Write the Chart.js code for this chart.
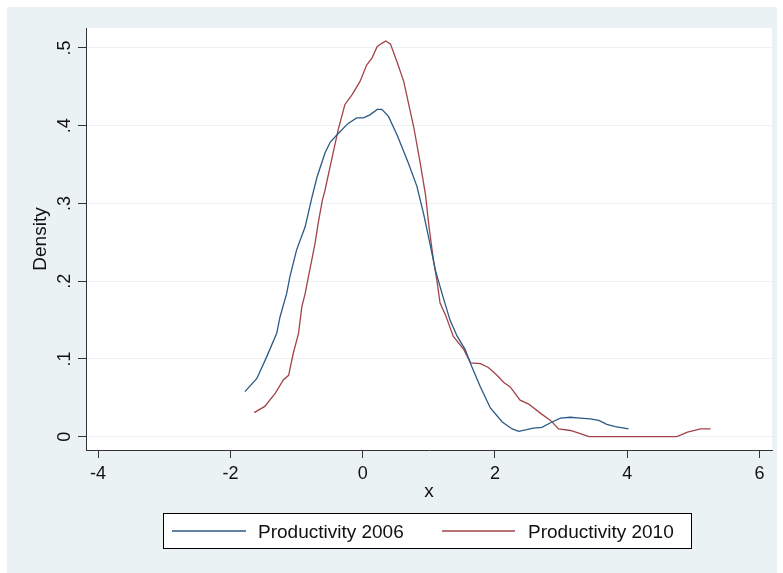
<!DOCTYPE html>
<html>
<head>
<meta charset="utf-8">
<script src="https://cdn.jsdelivr.net/npm/chart.js@4.4.0/dist/chart.umd.min.js"></script>
<style>
  html, body { margin: 0; padding: 0; background: #fff; }
</style>
</head>
<body>
<canvas id="kdens" width="783" height="573"></canvas>
<script>
// kernel density
const x2006 = [-1.78, -1.60, -1.45, -1.30, -1.25, -1.15, -1.10, -1.00, -0.87, -0.77, -0.69, -0.57, -0.49, -0.37, -0.22, -0.09, 0.01, 0.11, 0.22, 0.29, 0.39, 0.52, 0.69, 0.82, 0.92, 1.00, 1.10, 1.20, 1.32, 1.43, 1.55, 1.65, 1.78, 1.93, 2.11, 2.26, 2.36, 2.48, 2.58, 2.71, 2.84, 2.99, 3.14, 3.29, 3.44, 3.57, 3.69, 3.82, 4.02];
const dens2006 = [0.058, 0.075, 0.103, 0.133, 0.154, 0.184, 0.206, 0.240, 0.270, 0.307, 0.334, 0.365, 0.379, 0.390, 0.403, 0.410, 0.410, 0.414, 0.421, 0.421, 0.412, 0.388, 0.352, 0.322, 0.287, 0.255, 0.214, 0.184, 0.150, 0.129, 0.112, 0.090, 0.064, 0.037, 0.019, 0.010, 0.007, 0.009, 0.011, 0.012, 0.018, 0.024, 0.025, 0.024, 0.023, 0.021, 0.016, 0.013, 0.010];

const x2010 = [-1.64, -1.48, -1.32, -1.20, -1.12, -1.05, -0.97, -0.92, -0.87, -0.82, -0.77, -0.72, -0.67, -0.61, -0.57, -0.47, -0.37, -0.27, -0.16, -0.04, 0.06, 0.14, 0.22, 0.29, 0.35, 0.42, 0.52, 0.62, 0.77, 0.87, 0.95, 1.00, 1.07, 1.12, 1.17, 1.25, 1.37, 1.53, 1.63, 1.78, 1.90, 2.03, 2.13, 2.23, 2.38, 2.51, 2.69, 2.84, 2.96, 3.14, 3.29, 3.42, 4.75, 4.91, 5.11, 5.26];
const dens2010 = [0.031, 0.039, 0.056, 0.073, 0.079, 0.107, 0.133, 0.167, 0.184, 0.206, 0.227, 0.249, 0.276, 0.304, 0.317, 0.356, 0.395, 0.427, 0.440, 0.457, 0.478, 0.487, 0.502, 0.506, 0.509, 0.505, 0.482, 0.457, 0.399, 0.352, 0.311, 0.272, 0.227, 0.202, 0.172, 0.157, 0.129, 0.112, 0.095, 0.094, 0.089, 0.079, 0.070, 0.064, 0.047, 0.042, 0.030, 0.021, 0.010, 0.008, 0.004, 0, 0, 0.006, 0.010, 0.010];

const seriesNames = ['Productivity 2006', 'Productivity 2010'];
const seriesColors = ['#2b5a86', '#a2434a'];
const xTicks = [-4, -2, 0, 2, 4, 6];
const yTicks = [0, 0.1, 0.2, 0.3, 0.4, 0.5];
const yTickLabels = ['0', '.1', '.2', '.3', '.4', '.5'];
const xTitle = 'x';
const yTitle = 'Density';

const FONT = '"Liberation Sans", Arial, sans-serif';

function toPoints(xs, ys) {
    return xs.map((x, i) => ({x: x, y: ys[i]}));
}

// stata-like frame, rotated y labels, titles and boxed legend
const stataFrame = {
    id: 'stataFrame',
    beforeDraw(chart) {
        const {ctx, chartArea: a} = chart;
        ctx.save();
        ctx.fillStyle = '#ffffff';
        ctx.fillRect(0, 0, chart.width, chart.height);
        ctx.fillStyle = '#eaf2f3';
        ctx.fillRect(7, 7, 770, 566);
        ctx.fillStyle = '#ffffff';
        ctx.fillRect(a.left, a.top, a.right - a.left, a.bottom - a.top);
        ctx.restore();
    },
    afterDraw(chart) {
        const {ctx, chartArea: a} = chart;
        const yScale = chart.scales.y;
        ctx.save();
        ctx.fillStyle = '#111';
        ctx.font = '18px ' + FONT;
        ctx.textAlign = 'center';
        ctx.textBaseline = 'alphabetic';

        yTicks.forEach((v, i) => {
            const py = yScale.getPixelForValue(v);
            ctx.save();
            ctx.translate(70, py);
            ctx.rotate(-Math.PI / 2);
            ctx.fillText(yTickLabels[i], 0, 0);
            ctx.restore();
        });

        ctx.font = '19px ' + FONT;
        ctx.save();
        ctx.translate(46, (a.top + a.bottom) / 2);
        ctx.rotate(-Math.PI / 2);
        ctx.fillText(yTitle, 0, 0);
        ctx.restore();

        ctx.fillText(xTitle, (a.left + a.right) / 2, 497);

        // legend box
        ctx.fillStyle = '#ffffff';
        ctx.fillRect(164, 513, 528, 35);
        ctx.strokeStyle = '#000';
        ctx.lineWidth = 1;
        ctx.strokeRect(163.5, 513.5, 528, 35);

        const keys = [{x0: 172, x1: 246, tx: 258}, {x0: 442, x1: 515, tx: 528}];
        ctx.textAlign = 'left';
        ctx.font = '19px ' + FONT;
        chart.data.datasets.forEach((ds, i) => {
            const k = keys[i];
            ctx.strokeStyle = ds.borderColor;
            ctx.lineWidth = 1.3;
            ctx.beginPath();
            ctx.moveTo(k.x0, 531);
            ctx.lineTo(k.x1, 531);
            ctx.stroke();
            ctx.fillStyle = '#111';
            ctx.fillText(ds.label, k.tx, 538);
        });
        ctx.restore();
    }
};

const config = {
    type: 'line',
    data: {
        datasets: [
            {
                label: seriesNames[0],
                data: toPoints(x2006, dens2006),
                borderColor: seriesColors[0],
                borderWidth: 1.3,
                pointRadius: 0,
                tension: 0,
                fill: false
            },
            {
                label: seriesNames[1],
                data: toPoints(x2010, dens2010),
                borderColor: seriesColors[1],
                borderWidth: 1.3,
                pointRadius: 0,
                tension: 0,
                fill: false
            }
        ]
    },
    options: {
        responsive: false,
        animation: false,
        devicePixelRatio: 1,
        layout: {
            padding: {top: 28, right: 11, left: 0, bottom: 0}
        },
        plugins: {
            legend: {display: false},
            tooltip: {enabled: false}
        },
        scales: {
            x: {
                type: 'linear',
                min: -4.183,
                max: 6.188,
                afterBuildTicks: (s) => { s.ticks = xTicks.map(v => ({value: v})); },
                afterFit: (s) => { s.height = 123; },
                ticks: {
                    autoSkip: false,
                    maxRotation: 0,
                    padding: 5,
                    color: '#111',
                    font: {family: FONT, size: 18},
                    callback: (v) => String(v)
                },
                grid: {
                    drawOnChartArea: false,
                    drawTicks: true,
                    tickLength: 8,
                    tickColor: '#333'
                },
                border: {display: true, color: '#333', width: 1}
            },
            y: {
                type: 'linear',
                min: -0.0171,
                max: 0.5257,
                afterBuildTicks: (s) => { s.ticks = yTicks.map(v => ({value: v})); },
                afterFit: (s) => { s.width = 86; },
                ticks: {display: false},
                grid: {
                    color: '#eaf2f3',
                    lineWidth: 1,
                    drawTicks: true,
                    tickLength: 8,
                    tickColor: '#333'
                },
                border: {display: true, color: '#333', width: 1}
            }
        }
    },
    plugins: [stataFrame]
};

new Chart(document.getElementById('kdens').getContext('2d'), config);
</script>
</body>
</html>
